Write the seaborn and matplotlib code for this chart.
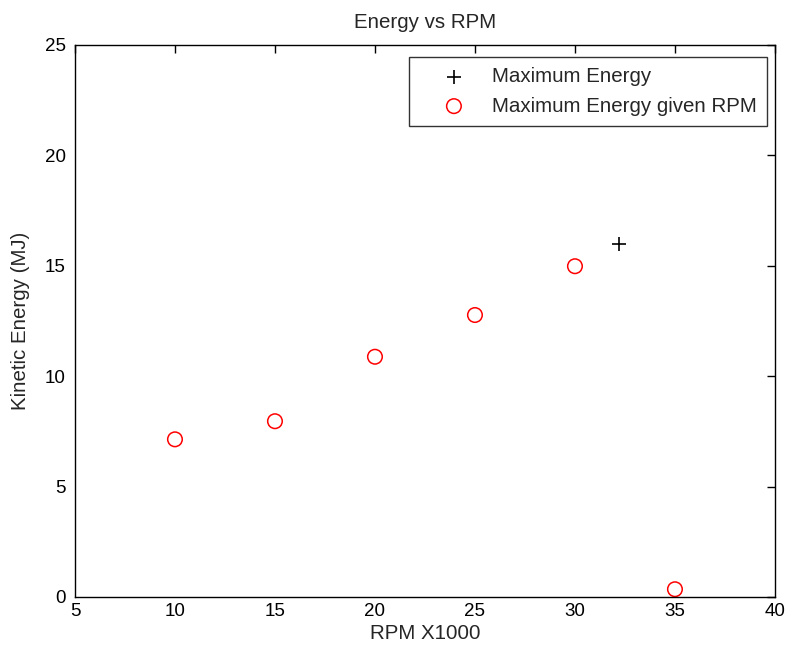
import matplotlib
matplotlib.use('Agg')
import matplotlib.pyplot as plt
import seaborn as sb

# data
rpm = [10, 15, 20, 25, 30, 35]
energy = [7.14, 7.96, 10.88, 12.77, 14.98, 0.35]
max_rpm = [32.2]
max_energy = [15.99]

sb.set_style('white')
plt.rcParams['font.family'] = ['Liberation Sans', 'DejaVu Sans']

TXT = 14.8

fig = plt.figure(figsize=(7.85, 6.52), dpi=100)
ax = fig.add_axes([0.0955, 0.0844, 0.8917, 0.8466])

sb.scatterplot(x=max_rpm, y=max_energy, marker='+', s=115, color='black',
               linewidth=1.2, label='Maximum Energy', ax=ax)
sb.scatterplot(x=rpm, y=energy, marker='o', s=110, facecolor='none',
               edgecolor='red', linewidth=1.1, label='Maximum Energy given RPM', ax=ax)

ax.set_xlim(5, 40)
ax.set_ylim(0, 25)
ax.set_xticks(range(5, 41, 5))
ax.set_yticks(range(0, 26, 5))
ax.tick_params(direction='in', length=6, width=1, top=True, right=True,
               labelsize=13.5, colors='black')
ax.tick_params(axis='x', pad=4.5)
ax.tick_params(axis='y', pad=6.5)
for sp in ax.spines.values():
    sp.set_color('black')
    sp.set_linewidth(1)

ax.set_xlabel('RPM X1000', fontsize=TXT, labelpad=3)
ax.set_ylabel('Kinetic Energy (MJ)', fontsize=TXT, labelpad=11)
ax.set_title('Energy vs RPM', fontsize=TXT, pad=12)

leg = ax.legend(loc='upper right', bbox_to_anchor=(0.9886, 0.9783), fontsize=TXT,
                frameon=True, fancybox=False, edgecolor='black',
                handletextpad=0.15, borderpad=0.5, labelspacing=0.5,
                borderaxespad=0, handlelength=3.4)
leg.get_frame().set_linewidth(1)

plt.savefig('out.png', dpi=100)
plt.close()
